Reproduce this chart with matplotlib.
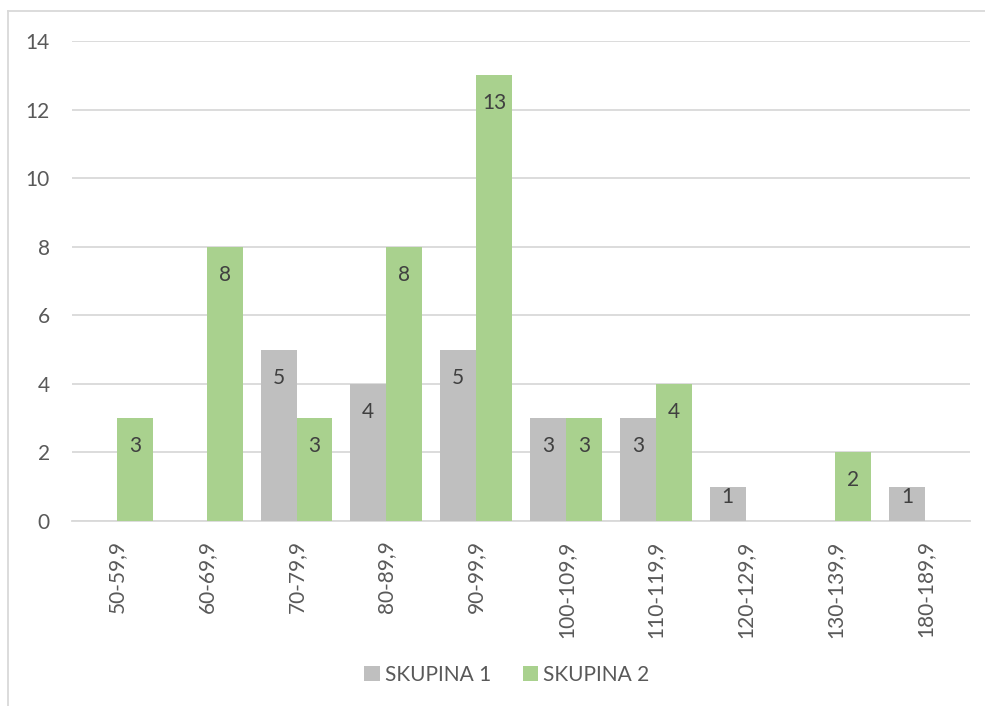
import matplotlib
matplotlib.use("Agg")
import matplotlib.pyplot as plt
import numpy as np
from matplotlib.lines import Line2D
from matplotlib.patches import Patch

categories = ["50-59,9", "60-69,9", "70-79,9", "80-89,9", "90-99,9",
              "100-109,9", "110-119,9", "120-129,9", "130-139,9", "180-189,9"]
skupina1 = [0, 0, 5, 4, 5, 3, 3, 1, 0, 1]
skupina2 = [3, 8, 3, 8, 13, 3, 4, 0, 2, 0]
series_names = ["SKUPINA 1", "SKUPINA 2"]
y_ticks = [0, 2, 4, 6, 8, 10, 12, 14]

GRAY = "#BFBFBF"
GREEN = "#A9D18E"
TEXT = "#595959"
GRID = "#D9D9D9"
FS = 15

plt.rcParams["font.family"] = ["Lato", "DejaVu Sans"]

fig = plt.figure(figsize=(9.85, 7.06), dpi=100)
ax_h_px = 521 - 41
ax = fig.add_axes([72 / 985, 1 - 521 / 706, (970 - 72) / 985, ax_h_px / 706])

ymax = 14
px_per_unit = ax_h_px / ymax
x = np.arange(len(categories))
w = 0.4
for vals, color, off in ((skupina1, GRAY, -w / 2), (skupina2, GREEN, w / 2)):
    for xi, v in zip(x, vals):
        if v == 0:
            continue
        ax.bar(xi + off, v, width=w, color=color, edgecolor="none", zorder=2)
        # inside-end label; short bars keep the label above the baseline
        drop_px = min(28, v * px_per_unit - 24)
        ax.annotate(str(v), (xi + off, v), xytext=(0, -drop_px * 72 / 100),
                    textcoords="offset points", ha="center", va="center",
                    fontsize=FS, color="#404040", zorder=3)

ax.set_xlim(-0.5, len(categories) - 0.5)
ax.set_ylim(0, ymax)
ax.set_yticks(y_ticks)
ax.set_xticks(x)
ax.set_xticklabels(categories, rotation=90, va="top", ha="center")
ax.tick_params(axis="both", length=0, labelsize=FS, colors=TEXT)
ax.tick_params(axis="y", pad=16)
ax.tick_params(axis="x", pad=14)
ax.grid(axis="y", color=GRID, linewidth=1.3, zorder=0)
for s in ("top", "right", "left"):
    ax.spines[s].set_visible(False)
ax.spines["bottom"].set_color(GRID)
ax.spines["bottom"].set_linewidth(1.3)
ax.spines["bottom"].set_zorder(1)

handles = [Patch(facecolor=GRAY, edgecolor="none"), Patch(facecolor=GREEN, edgecolor="none")]
fig.legend(handles, series_names, loc="center", bbox_to_anchor=(507 / 985, 1 - 675 / 706),
           ncol=2, frameon=False, fontsize=FS, labelcolor=TEXT,
           handlelength=0.75, handleheight=0.75, handletextpad=0.25, columnspacing=1.5)

# chart frame (top and left edges)
fig.add_artist(Line2D([7.5 / 985, 7.5 / 985], [0, 1 - 11 / 706], transform=fig.transFigure,
                      color=GRID, linewidth=1.3))
fig.add_artist(Line2D([7.5 / 985, 1], [1 - 11 / 706, 1 - 11 / 706], transform=fig.transFigure,
                      color=GRID, linewidth=1.3))

fig.savefig("out.png", dpi=100, facecolor="white")
